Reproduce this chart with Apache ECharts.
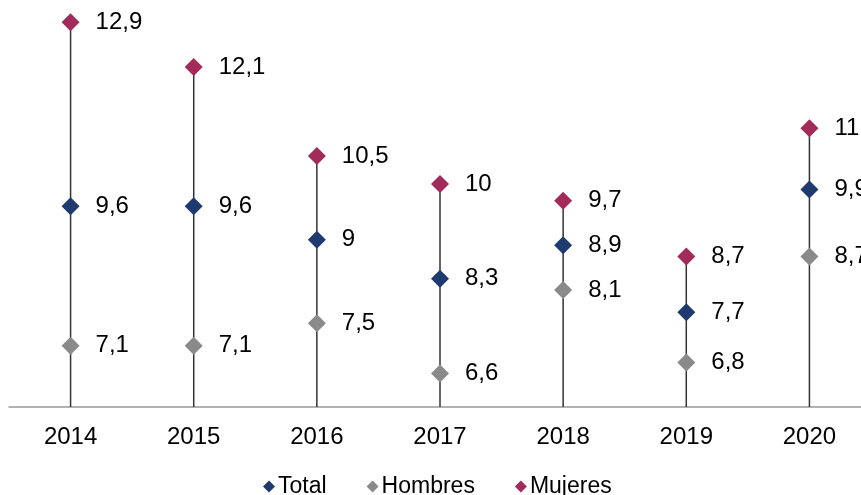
<!DOCTYPE html>
<html><head><meta charset="utf-8">
<script src="https://cdn.jsdelivr.net/npm/echarts@6/dist/echarts.min.js"></script>
<style>html,body{margin:0;padding:0;background:#fff;overflow:hidden}#c{width:871px;height:495px}</style>
</head><body><div id="c"></div>
<script>
var categories = ['2014','2015','2016','2017','2018','2019','2020'];
var total   = [9.6, 9.6, 9.0, 8.3, 8.9, 7.7, 9.9];
var hombres = [7.1, 7.1, 7.5, 6.6, 8.1, 6.8, 8.7];
var mujeres = [12.9, 12.1, 10.5, 10.0, 9.7, 8.7, 11.0];
var yMin = 6, yMax = 13.3;

var FONT = '"Liberation Sans", Arial, sans-serif';
function fmt(p){ return String(p.value).replace('.', ','); }
function pointSeries(name, data, color){
  return {
    name: name, type: 'scatter', data: data, symbol: 'diamond', symbolSize: 18,
    itemStyle: {color: color, opacity: 1}, z: 5,
    label: {show: true, position: 'right', distance: 16, formatter: fmt,
      fontSize: 24, fontFamily: FONT, color: '#000'}
  };
}
var chart = echarts.init(document.getElementById('c'));
chart.setOption({
  animation: false,
  grid: {left: 9, top: 0, right: 0, height: 407, containLabel: false},
  xAxis: {
    type: 'category', data: categories,
    axisLine: {show: true, lineStyle: {color: '#999', width: 1.5}},
    axisTick: {show: false},
    axisLabel: {fontSize: 24, fontFamily: FONT, color: '#000', margin: 18}
  },
  yAxis: {type: 'value', min: yMin, max: yMax, show: false, splitLine: {show: false}},
  legend: {
    bottom: -8, left: 258, itemGap: 40, itemWidth: 12, itemHeight: 12,
    data: [{name:'Total', icon:'diamond'},{name:'Hombres', icon:'diamond'},{name:'Mujeres', icon:'diamond'}],
    textStyle: {fontSize: 23, fontFamily: FONT, color: '#000', padding: [0,0,0,-2]}
  },
  series: [
    {
      type: 'custom', name: 'stem', z: 1, silent: true,
      data: mujeres.map(function(v, i){ return [i, v]; }),
      renderItem: function(params, api){
        var top = api.coord([api.value(0), api.value(1)]);
        var bot = api.coord([api.value(0), yMin]);
        return {type: 'line', shape: {x1: top[0], y1: top[1], x2: bot[0], y2: bot[1]},
          style: {stroke: '#333', lineWidth: 1.5}};
      }
    },
    pointSeries('Total', total, '#1f3a6e'),
    pointSeries('Hombres', hombres, '#8a8a8a'),
    pointSeries('Mujeres', mujeres, '#a32b5a')
  ]
});
</script></body></html>
